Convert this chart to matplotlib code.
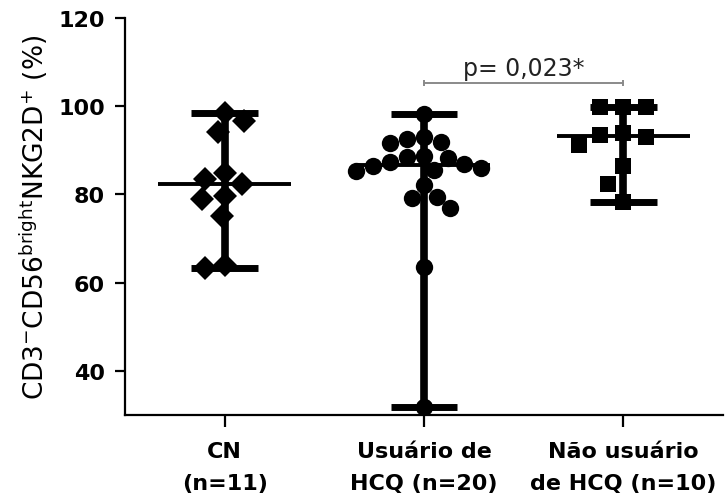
import numpy as np
import matplotlib
matplotlib.use("Agg")
import matplotlib.pyplot as plt

# grupos e valores (% de células CD3-CD56bright NKG2D+)
groups = ["CN\n(n=11)", "Usuário de\nHCQ (n=20)", "Não usuário\nde HCQ (n=10)"]
cn = [98.5, 96.6, 94.2, 84.9, 83.5, 82.4, 79.6, 79.0, 75.1, 64.0, 63.3]
hcq = [98.2, 93.0, 92.6, 91.9, 91.7, 88.7, 88.5, 88.3, 87.3, 86.8,
       86.5, 86.0, 85.5, 85.3, 82.1, 79.4, 79.2, 76.9, 63.6, 31.8]
non_hcq = [99.8, 99.8, 99.8, 93.9, 93.5, 93.0, 91.2, 86.5, 82.4, 78.3]
markers = ["D", "o", "s"]
p_text = "p= 0,023*"
p_pair = (1, 2)
p_y = 105.3
yticks = [40, 60, 80, 100, 120]


def swarm(ax, xc, vals, min_px):
    # espalha os pontos na horizontal sem sobrepor (em pixels)
    vals = np.asarray(vals, dtype=float)
    disp = ax.transData.transform(np.column_stack([np.full(len(vals), xc), vals]))
    placed = []
    out = np.empty(len(vals))
    for n, i in enumerate(np.argsort(-vals)):
        px, py = disp[i]
        pos = None
        for k in range(0, 400):
            cands = (px,) if k == 0 else ((px + k, px - k) if n % 2 else (px - k, px + k))
            for cx in cands:
                if all((cx - qx) ** 2 + (py - qy) ** 2 >= min_px ** 2 for qx, qy in placed):
                    pos = cx
                    break
            if pos is not None:
                break
        placed.append((pos, py))
        out[i] = pos
    return ax.transData.inverted().transform(np.column_stack([out, disp[:, 1]]))[:, 0]


fig = plt.figure(figsize=(7.28, 5.02), dpi=100)
ax = fig.add_axes([0.1717, 0.1713, 0.8213, 0.7909])
ax.set_xlim(-0.5, 2.5)
ax.set_ylim(30, 120)

data = [cn, hcq, non_hcq]
sizes = [12, 12.5, 12]
gaps = [20, 17, 23]
for i, (vals, mk, ms, gap) in enumerate(zip(data, markers, sizes, gaps)):
    lo, hi, med = min(vals), max(vals), np.median(vals)
    ax.vlines(i, lo, hi, color="black", lw=5.5, zorder=2)
    ax.hlines([lo, hi], i - 0.167, i + 0.167, color="black", lw=5, zorder=2)
    ax.hlines(med, i - 0.333, i + 0.333, color="black", lw=2.8, zorder=2)
    xs = swarm(ax, i, vals, gap)
    ax.plot(xs, vals, ls="none", marker=mk, ms=ms, mew=0, color="black", zorder=3)

# barra da comparação
x1, x2 = p_pair
ax.plot([x1, x2], [p_y, p_y], color="#8a8a8a", lw=1.4, zorder=1)
ax.vlines([x1, x2], p_y - 0.7, p_y + 0.7, color="#8a8a8a", lw=1.4)
ax.annotate(p_text, ((x1 + x2) / 2, p_y), xytext=(0, 2), textcoords="offset points",
            ha="center", va="bottom", fontsize=17, color="#222222")

for side in ["top", "right"]:
    ax.spines[side].set_visible(False)
for side in ["left", "bottom"]:
    ax.spines[side].set_linewidth(1.6)

ax.set_yticks(yticks)
ax.set_xticks(range(len(groups)))
ax.set_xticklabels(groups, fontsize=16, fontweight="bold", linespacing=1.75)
ax.tick_params(axis="y", length=7.5, width=1.6, pad=7, labelsize=16)
ax.tick_params(axis="x", length=8.5, width=1.6, pad=10)
for lab in ax.get_yticklabels():
    lab.set_fontweight("bold")

ax.set_ylabel(r"CD3$^{-}$CD56$^{\mathrm{bright}}$NKG2D$^{+}$ (%)", fontsize=19)
ax.yaxis.set_label_coords(-0.125, 0.5)

fig.savefig("out.png", dpi=100)
